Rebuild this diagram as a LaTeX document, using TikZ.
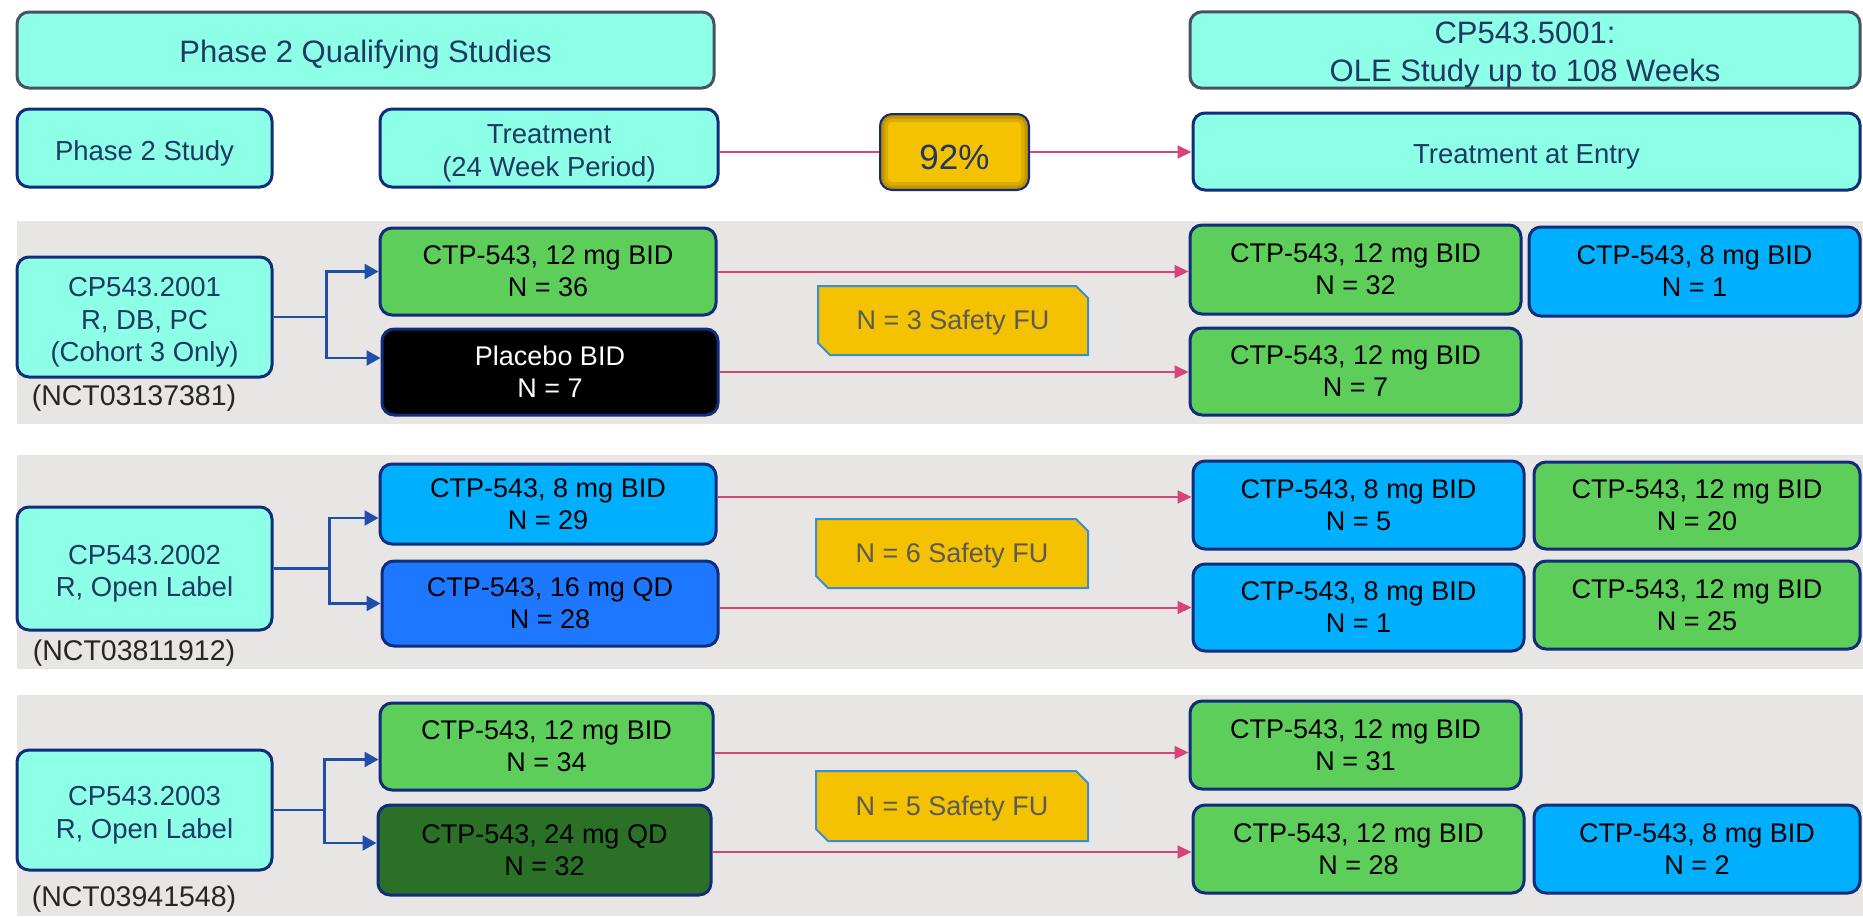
\documentclass[tikz,border=0pt]{standalone}
\usepackage{fontspec}
\setmainfont{Liberation Sans}
\usetikzlibrary{arrows.meta,calc}
\definecolor{aqua}{RGB}{140,255,230}
\definecolor{hdrline}{RGB}{70,82,98}
\definecolor{navyline}{RGB}{16,44,122}
\definecolor{navytext}{RGB}{31,56,100}
\definecolor{ggreen}{RGB}{94,206,90}
\definecolor{gblue}{RGB}{0,176,255}
\definecolor{bblue}{RGB}{30,120,255}
\definecolor{dgreen}{RGB}{42,113,39}
\definecolor{gold}{RGB}{244,194,0}
\definecolor{dgold}{RGB}{150,110,0}
\definecolor{sfuline}{RGB}{58,143,208}
\definecolor{sfutext}{RGB}{90,90,90}
\definecolor{band}{RGB}{231,230,228}
\definecolor{pinkline}{RGB}{214,69,122}
\definecolor{brline}{RGB}{31,79,168}
\definecolor{labtext}{RGB}{38,38,38}
\newcommand\upst[1]{\rule{0pt}{#1}}
\begin{document}
\begin{tikzpicture}[x=1pt,y=-1pt,
  every node/.style={font=\fontsize{27}{32}\selectfont, align=center, inner sep=0pt},
  hdr/.style={rounded corners=12pt, draw=hdrline, line width=3pt, fill=aqua, text=navytext, font=\fontsize{31}{38}\selectfont},
  abox/.style={rounded corners=12pt, draw=navyline, line width=3pt, fill=aqua, text=navytext, font=\fontsize{27.5}{32.5}\selectfont},
  tbox/.style={rounded corners=12pt, draw=navyline, line width=3pt, text=black},
  pctbox/.style={rounded corners=12pt, draw=navyline, line width=2pt, fill=gold, text=navytext, font=\fontsize{35}{40}\selectfont,
    path picture={
      \draw[dgold, line width=16pt, opacity=0.25, rounded corners=12pt] (path picture bounding box.south west) rectangle (path picture bounding box.north east);
      \draw[dgold, line width=9pt, opacity=0.35, rounded corners=12pt] (path picture bounding box.south west) rectangle (path picture bounding box.north east);
      \draw[dgold, line width=4pt, opacity=0.45, rounded corners=12pt] (path picture bounding box.south west) rectangle (path picture bounding box.north east);}},
  sfu/.style={fill=band, text=sfutext, path picture={
    \draw[draw=sfuline, line width=2pt, fill=gold]
      ([shift={(1pt,-1pt)}]path picture bounding box.north west) --
      ([shift={(-13pt,-1pt)}]path picture bounding box.north east) --
      ([shift={(-1pt,-13pt)}]path picture bounding box.north east) --
      ([shift={(-1pt,1pt)}]path picture bounding box.south east) --
      ([shift={(13pt,1pt)}]path picture bounding box.south west) --
      ([shift={(1pt,13pt)}]path picture bounding box.south west) -- cycle;}},
  nct/.style={text=labtext, font=\fontsize{28.5}{33}\selectfont},
  pink/.style={draw=pinkline, line width=2pt, -{Triangle[length=14pt,width=13pt]}},
  pinkplain/.style={draw=pinkline, line width=2pt},
  branch/.style={draw=brline, line width=2.5pt},
  brarrow/.style={draw=brline, line width=2.5pt, -{Triangle[length=14pt,width=15pt]}},
  wh/.style 2 args={minimum width=#1pt, minimum height=#2pt}
]
\useasboundingbox (0,0) rectangle (1863,916);
\fill[white] (0,0) rectangle (1863,916);
% bands
\fill[band] (17,221) rectangle (1863,424);
\fill[band] (17,455) rectangle (1863,669);
\fill[band] (17,695) rectangle (1863,916);

% header rows
\node[hdr, wh={697}{76}] (hdr1) at (365.5,50) {\upst{32pt}Phase 2 Qualifying Studies};
\node[hdr, wh={670}{76}] (hdr2) at (1525,50) {\upst{32pt}CP543.5001:\\OLE Study up to 108 Weeks};
\node[abox, wh={255}{78}] (p2s) at (144.5,148) {\upst{30pt}Phase 2 Study};
\node[abox, wh={338}{78}] (trt) at (549,148) {\upst{30pt}Treatment\\(24 Week Period)};
\node[pctbox, wh={149}{76}] (pct) at (954.5,152) {\upst{35pt}92\%};
\node[abox, wh={667}{77}] (entry) at (1526.5,151.5) {\upst{30pt}Treatment at Entry};
\draw[pinkplain] (trt.east |- pct.west) -- (pct.west);
\draw[pink] (pct.east) -- (pct.east -| entry.west);

% band 1
\node[abox, wh={255}{120}] (cp1) at (144.5,317) {\upst{30pt}CP543.2001\\R, DB, PC\\(Cohort 3 Only)};
\node[nct] (nct1) at (134,394) {\upst{28pt}(NCT03137381)};
\node[tbox, fill=ggreen, wh={336}{87}] (t1a) at (548,271.5) {CTP-543, 12 mg BID\\N = 36};
\node[tbox, fill=black, text=white, wh={336}{86}] (t1b) at (550,372) {Placebo BID\\N = 7};
\node[sfu, wh={272}{71}] (s1) at (953,320.5) {\upst{24pt}N = 3 Safety FU};
\node[tbox, fill=ggreen, wh={331}{89}] (r1a) at (1355.5,269.5) {CTP-543, 12 mg BID\\N = 32};
\node[tbox, fill=gblue, wh={331}{89}] (r1b) at (1694.5,271.5) {CTP-543, 8 mg BID\\N = 1};
\node[tbox, fill=ggreen, wh={331}{87}] (r1c) at (1355.5,371.5) {CTP-543, 12 mg BID\\N = 7};
\draw[branch] (cp1.east) -- ++(53,0) coordinate (b1);
\draw[brarrow] (b1) |- (t1a.west);
\draw[brarrow] (b1) |- ([yshift=14pt]t1b.west);
\draw[pink] (t1a.east) -- (t1a.east -| r1a.west);
\draw[pink] (t1b.east) -- (t1b.east -| r1c.west);

% band 2
\node[abox, wh={255}{123}] (cp2) at (144.5,568.5) {\upst{30pt}CP543.2002\\R, Open Label};
\node[nct] (nct2) at (134,649) {\upst{28pt}(NCT03811912)};
\node[tbox, fill=gblue, wh={336}{80}] (t2a) at (548,504) {CTP-543, 8 mg BID\\N = 29};
\node[tbox, fill=bblue, wh={336}{85}] (t2b) at (550,603.5) {CTP-543, 16 mg QD\\N = 28};
\node[sfu, wh={274}{71}] (s2) at (952,553.5) {\upst{24pt}N = 6 Safety FU};
\node[tbox, fill=gblue, wh={331}{88}] (r2a) at (1358.5,505) {CTP-543, 8 mg BID\\N = 5};
\node[tbox, fill=ggreen, wh={326}{87}] (r2b) at (1697,505.5) {CTP-543, 12 mg BID\\N = 20};
\node[tbox, fill=gblue, wh={331}{87}] (r2c) at (1358.5,607.5) {CTP-543, 8 mg BID\\N = 1};
\node[tbox, fill=ggreen, wh={326}{88}] (r2d) at (1697,605) {CTP-543, 12 mg BID\\N = 25};
\draw[branch] (cp2.east) -- ++(56,0) coordinate (b2);
\draw[brarrow] (b2) |- ([yshift=-14pt]t2a.west);
\draw[brarrow] (b2) |- (t2b.west);
\draw[pink] ([yshift=7pt]t2a.east) -- ([yshift=7pt]t2a.east -| r2a.west);
\draw[pink] ([yshift=-4pt]t2b.east) -- ([yshift=-4pt]t2b.east -| r2c.west);

% band 3
\node[abox, wh={255}{120}] (cp3) at (144.5,810) {\upst{30pt}CP543.2003\\R, Open Label};
\node[nct] (nct3) at (134,895) {\upst{28pt}(NCT03941548)};
\node[tbox, fill=ggreen, wh={333}{87}] (t3a) at (546.5,746.5) {CTP-543, 12 mg BID\\N = 34};
\node[tbox, fill=dgreen, wh={333}{90}] (t3b) at (544.5,850) {CTP-543, 24 mg QD\\N = 32};
\node[sfu, wh={274}{72}] (s3) at (952,806) {\upst{24pt}N = 5 Safety FU};
\node[tbox, fill=ggreen, wh={331}{88}] (r3a) at (1355.5,745) {CTP-543, 12 mg BID\\N = 31};
\node[tbox, fill=ggreen, wh={331}{88}] (r3b) at (1358.5,849) {CTP-543, 12 mg BID\\N = 28};
\node[tbox, fill=gblue, wh={326}{88}] (r3c) at (1697,849) {CTP-543, 8 mg BID\\N = 2};
\draw[branch] (cp3.east) -- ++(51,0) coordinate (b3);
\draw[brarrow] (b3) |- ([yshift=-13pt]t3a.west);
\draw[brarrow] (b3) |- ([yshift=7pt]t3b.west);
\draw[pink] ([yshift=-6pt]t3a.east) -- ([yshift=-6pt]t3a.east -| r3a.west);
\draw[pink] ([yshift=-2pt]t3b.east) -- ([yshift=-2pt]t3b.east -| r3b.west);
\end{tikzpicture}
\end{document}
